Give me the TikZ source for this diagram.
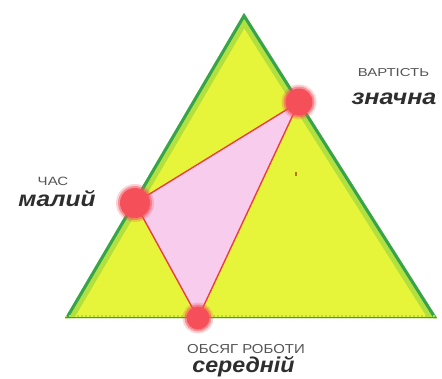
\documentclass[tikz,border=0pt]{standalone}
\usepackage{fontspec}
\setmainfont{Liberation Sans}
\usetikzlibrary{backgrounds}
\definecolor{gdark}{HTML}{35A452}
\definecolor{gmid}{HTML}{B2E03E}
\definecolor{yel}{HTML}{E6F53A}
\definecolor{pinkf}{HTML}{F8CCEC}
\definecolor{redline}{HTML}{E8403E}
\definecolor{dotred}{HTML}{F5505A}
\definecolor{labgray}{HTML}{555555}
\definecolor{labdark}{HTML}{2E2E2E}
\definecolor{speck}{HTML}{B07A10}
\begin{document}
\begin{tikzpicture}[x=1pt,y=-1pt,
  dot/.style={circle, fill=dotred, inner sep=0pt,
    preaction={draw=dotred, draw opacity=0.25, line width=8pt},
    preaction={draw=dotred, draw opacity=0.5, line width=4pt}},
  small/.style={text=labgray, anchor=base, inner sep=0pt},
  big/.style={font=\fontsize{21.5}{24}\selectfont\bfseries\itshape, text=labdark, anchor=base, inner sep=0pt}]
\useasboundingbox (0,0) rectangle (442,378);
\coordinate (A) at (244,13);
\coordinate (B) at (65,318);
\coordinate (C) at (437,318);
% dots
\node[dot, minimum size=27pt] (pT) at (299,102) {};
\node[dot, minimum size=30pt] (pL) at (135,203) {};
\node[dot, minimum size=23pt] (pB) at (198,318) {};
% labels
\node[small, font=\fontsize{11.5}{12}\selectfont] (vart) at (393.5,76) {\scalebox{1.3}[1]{ВАРТІСТЬ}};
\node[big] (zn) at (394,104) {\scalebox{1.17}[1]{значна}};
\node[small, font=\fontsize{12}{12}\selectfont] (chas) at (53,185) {\scalebox{1.25}[1]{ЧАС}};
\node[big] (mal) at (57,206) {\scalebox{1.14}[1]{малий}};
\node[small, font=\fontsize{13}{13}\selectfont] (obs) at (246,353) {\scalebox{1.15}[1]{ОБСЯГ РОБОТИ}};
\node[big] (ser) at (243.5,372) {\scalebox{1.08}[1]{середній}};
\begin{pgfonlayer}{background}
  \fill[white] (0,0) rectangle (442,378);
  \fill[yel] (A) -- (B) -- (C) -- cycle;
  \begin{scope}
    \clip (A) -- (B) -- (C) -- cycle;
    \draw[gmid, line width=16pt, line join=miter] (B) -- (A) -- (C);
    \draw[gdark, line width=6pt, line join=miter] (B) -- (A) -- (C);
    \draw[gmid, line width=6pt, dash pattern=on 2pt off 2pt] (B) -- (C);
    \draw[gdark, line width=3pt] (B) -- (C);
  \end{scope}
  \fill[speck] (295,172) rectangle (297,176);
  \filldraw[fill=pinkf, draw=redline, line width=1.4pt, line join=round]
    (pT.center) -- (pL.center) -- (pB.center) -- cycle;
\end{pgfonlayer}
\end{tikzpicture}
\end{document}
